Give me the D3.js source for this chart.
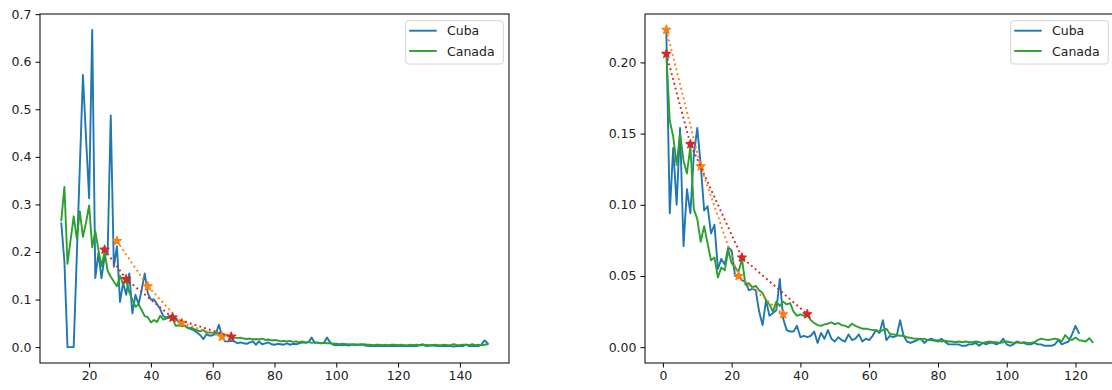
<!DOCTYPE html>
<html>
<head>
<meta charset="utf-8">
<script src="https://cdn.jsdelivr.net/npm/d3@7"></script>
<style>
  html, body { margin: 0; padding: 0; background: #fff; }
  svg { display: block; }
  text { font-family: "DejaVu Sans", sans-serif; }
</style>
</head>
<body>
<svg id="chart" width="1112" height="390"></svg>
<script>
// ---------- DATA ----------
const seriesNames = ["Cuba", "Canada"];

// Left panel (x starts at 11, step 1)
const leftStart = 11;
const leftCuba = [0.26,0.18,0.0,0.0,0.0,0.19,0.38,0.572,0.44,0.313,0.667,0.145,0.198,0.145,0.19,0.2,0.487,0.169,0.212,0.095,
  0.135,0.11,0.155,0.071,0.11,0.09,0.12,0.155,0.113,0.1,0.1,0.09,0.08,0.065,0.062,0.065,0.068,0.06,0.052,0.046,
  0.045,0.04,0.038,0.035,0.03,0.025,0.017,0.027,0.024,0.025,0.028,0.047,0.024,0.012,0.012,0.013,0.012,0.008,0.01,0.008,
  0.007,0.01,0.012,0.005,0.012,0.006,0.008,0.01,0.006,0.005,0.007,0.006,0.005,0.008,0.005,0.007,0.006,0.008,0.01,0.009,
  0.01,0.02,0.009,0.01,0.008,0.009,0.02,0.01,0.005,0.004,0.005,0.004,0.005,0.003,0.006,0.004,0.005,0.006,0.004,0.003,
  0.002,0.002,0.002,0.002,0.002,0.003,0.002,0.003,0.002,0.003,0.002,0.003,0.002,0.002,0.003,0.002,0.004,0.006,0.002,0.003,
  0.004,0.003,0.002,0.002,0.003,0.002,0.002,0.001,0.002,0.003,0.002,0.005,0.002,0.002,0.003,0.002,0.006,0.014,0.008];
const leftCanada = [0.267,0.337,0.175,0.225,0.275,0.228,0.285,0.232,0.262,0.298,0.21,0.244,0.205,0.17,0.2,0.16,0.148,0.138,0.128,0.15,
  0.132,0.14,0.115,0.1,0.085,0.09,0.078,0.065,0.063,0.052,0.057,0.053,0.066,0.058,0.06,0.062,0.06,0.045,0.046,0.044,
  0.045,0.04,0.041,0.038,0.035,0.033,0.036,0.03,0.031,0.03,0.031,0.028,0.027,0.026,0.024,0.022,0.02,0.019,0.02,0.018,
  0.017,0.018,0.016,0.017,0.016,0.018,0.015,0.016,0.014,0.015,0.014,0.012,0.013,0.012,0.013,0.011,0.012,0.01,0.012,0.01,
  0.011,0.009,0.01,0.009,0.008,0.009,0.008,0.008,0.007,0.007,0.006,0.007,0.006,0.006,0.005,0.006,0.005,0.005,0.006,0.005,
  0.005,0.004,0.005,0.005,0.004,0.005,0.004,0.005,0.005,0.004,0.005,0.004,0.004,0.005,0.004,0.005,0.004,0.004,0.005,0.004,
  0.004,0.005,0.004,0.004,0.005,0.004,0.004,0.006,0.004,0.004,0.005,0.005,0.004,0.006,0.004,0.005,0.004,0.005,0.006];
const leftOrangeX = [29, 39, 50, 63];
const leftOrangeY = [0.223, 0.128, 0.051, 0.022];
const leftRedX = [25, 32, 47, 66];
const leftRedY = [0.205, 0.143, 0.062, 0.022];
const leftXTicks = [20, 40, 60, 80, 100, 120, 140];
const leftYTicks = [0.0, 0.1, 0.2, 0.3, 0.4, 0.5, 0.6, 0.7];

// Right panel (x starts at 1, step 1)
const rightStart = 1;
const rightCuba = [0.222,0.094,0.14,0.1,0.154,0.071,0.111,0.094,0.135,0.154,0.128,0.096,0.099,0.08,0.086,0.055,0.062,0.058,0.07,0.068,
  0.05,0.05,0.047,0.046,0.04,0.041,0.04,0.025,0.0155,0.033,0.022,0.024,0.026,0.048,0.02,0.012,0.011,0.011,0.015,0.007,
  0.008,0.007,0.008,0.011,0.003,0.01,0.006,0.012,0.006,0.004,0.007,0.005,0.004,0.009,0.005,0.006,0.009,0.004,0.006,0.005,
  0.008,0.012,0.01,0.019,0.005,0.008,0.007,0.008,0.019,0.008,0.004,0.003,0.004,0.005,0.006,0.003,0.005,0.006,0.005,0.004,
  0.006,0.004,0.002,0.002,0.002,0.002,0.001,0.001,0.002,0.002,0.003,0.001,0.003,0.002,0.003,0.003,0.002,0.003,0.006,0.002,
  0.001,0.002,0.004,0.003,0.003,0.002,0.002,0.003,0.002,0.002,0.001,0.001,0.001,0.002,0.005,0.002,0.003,0.004,0.009,0.015,0.01];
const rightCanada = [0.206,0.159,0.148,0.128,0.15,0.131,0.122,0.141,0.097,0.09,0.074,0.085,0.073,0.061,0.063,0.049,0.056,0.054,0.068,0.059,
  0.056,0.053,0.062,0.044,0.045,0.042,0.043,0.04,0.038,0.033,0.03,0.025,0.032,0.029,0.032,0.03,0.031,0.025,0.022,0.023,
  0.022,0.023,0.019,0.017,0.0155,0.015,0.016,0.0165,0.0175,0.016,0.017,0.0155,0.015,0.014,0.0165,0.015,0.014,0.013,0.013,0.0125,
  0.012,0.012,0.011,0.012,0.013,0.0095,0.009,0.0085,0.008,0.008,0.007,0.0065,0.006,0.006,0.0055,0.006,0.005,0.005,0.0045,0.005,
  0.004,0.0045,0.004,0.004,0.0035,0.004,0.0035,0.004,0.0035,0.0035,0.004,0.0035,0.003,0.0035,0.004,0.0035,0.0035,0.003,0.0035,0.004,
  0.0035,0.003,0.0035,0.003,0.0035,0.003,0.003,0.0035,0.005,0.006,0.0055,0.005,0.0055,0.006,0.0055,0.004,0.0085,0.006,0.005,0.0068,
  0.005,0.0045,0.004,0.0063,0.0035];
const rightOrangeX = [1, 11, 22, 35];
const rightOrangeY = [0.223, 0.127, 0.050, 0.0232];
const rightRedX = [1, 8, 23, 42];
const rightRedY = [0.206, 0.1426, 0.063, 0.0232];
const rightXTicks = [0, 20, 40, 60, 80, 100, 120];
const rightYTicks = [0.00, 0.05, 0.10, 0.15, 0.20];

// ---------- STYLE ----------
const C_CUBA = "#1f77b4", C_CANADA = "#2ca02c", C_ORANGE = "#ff7f0e", C_RED = "#d62728";
const svg = d3.select("#chart");
const W = 469, H = 349, TOP = 14;

function panel(opts) {
  const g = svg.append("g").attr("transform", `translate(${opts.left},${TOP})`);
  const x = d3.scaleLinear().domain(opts.xDomain).range([0, W]);
  const y = d3.scaleLinear().domain(opts.yDomain).range([H, 0]);

  const clip = "clip" + opts.id;
  g.append("clipPath").attr("id", clip).append("rect").attr("width", W).attr("height", H);
  const plot = g.append("g").attr("clip-path", `url(#${clip})`);

  const line = d3.line().x(d => x(d[0])).y(d => y(d[1]));
  const toPts = (arr, start) => arr.map((v, i) => [start + i, v]);

  plot.append("path").datum(toPts(opts.cuba, opts.start))
    .attr("d", line).attr("fill", "none").attr("stroke", C_CUBA)
    .attr("stroke-width", 1.9).attr("stroke-linejoin", "round").attr("stroke-linecap", "square");
  plot.append("path").datum(toPts(opts.canada, opts.start))
    .attr("d", line).attr("fill", "none").attr("stroke", C_CANADA)
    .attr("stroke-width", 1.9).attr("stroke-linejoin", "round").attr("stroke-linecap", "square");

  const star = d3.symbol().type(d3.symbolStar).size(24);
  [[opts.oX, opts.oY, C_ORANGE], [opts.rX, opts.rY, C_RED]].forEach(([xs, ys, col]) => {
    const pts = xs.map((v, i) => [v, ys[i]]);
    plot.append("path").datum(pts).attr("d", line).attr("fill", "none")
      .attr("stroke", col).attr("stroke-width", 1.9).attr("stroke-dasharray", "1.9,3.1");
    plot.selectAll(null).data(pts).enter().append("path")
      .attr("d", star)
      .attr("transform", d => `translate(${x(d[0])},${y(d[1])})`)
      .attr("fill", col).attr("stroke", col).attr("stroke-width", 1.2).attr("stroke-linejoin", "round");
  });

  // axes
  const xa = g.append("g").attr("transform", `translate(0,${H})`)
    .call(d3.axisBottom(x).tickValues(opts.xTicks).tickFormat(d3.format("d")).tickSizeOuter(0).tickSize(4.5).tickPadding(4));
  const ya = g.append("g")
    .call(d3.axisLeft(y).tickValues(opts.yTicks).tickFormat(d3.format(opts.yFmt)).tickSizeOuter(0).tickSize(4.5).tickPadding(4));
  [xa, ya].forEach(a => {
    a.select(".domain").remove();
    a.selectAll(".tick line").attr("stroke", "#000").attr("stroke-width", 1);
    a.selectAll(".tick text").attr("fill", "#222").style("font-size", "12.5px").style("font-family", "DejaVu Sans, sans-serif");
  });

  // frame
  g.append("rect").attr("width", W).attr("height", H).attr("fill", "none")
    .attr("stroke", "#000").attr("stroke-width", 1);

  // legend
  const lg = g.append("g").attr("transform", `translate(${W - 5.7 - 97.6},${6.7})`);
  lg.append("rect").attr("width", 97.6).attr("height", 43.3).attr("rx", 3)
    .attr("fill", "#fff").attr("fill-opacity", 0.8).attr("stroke", "#d4d4d4").attr("stroke-width", 1);
  [[seriesNames[0], C_CUBA], [seriesNames[1], C_CANADA]].forEach(([name, col], i) => {
    const yy = 10 + i * 20.3;
    lg.append("line").attr("x1", 3.5).attr("x2", 31).attr("y1", yy).attr("y2", yy)
      .attr("stroke", col).attr("stroke-width", 1.9);
    lg.append("text").attr("x", 41.3).attr("y", yy + 4.6).text(name)
      .attr("fill", "#222").style("font-size", "12.5px");
  });
}

panel({ id: "L", left: 40, start: leftStart, cuba: leftCuba, canada: leftCanada,
  xDomain: [4.1, 155.9], yDomain: [-0.0334, 0.7004],
  oX: leftOrangeX, oY: leftOrangeY, rX: leftRedX, rY: leftRedY,
  xTicks: leftXTicks, yTicks: leftYTicks, yFmt: ".1f" });

panel({ id: "R", left: 645, start: rightStart, cuba: rightCuba, canada: rightCanada,
  xDomain: [-5.2, 131.2], yDomain: [-0.0111, 0.2340],
  oX: rightOrangeX, oY: rightOrangeY, rX: rightRedX, rY: rightRedY,
  xTicks: rightXTicks, yTicks: rightYTicks, yFmt: ".2f" });
</script>
</body>
</html>
